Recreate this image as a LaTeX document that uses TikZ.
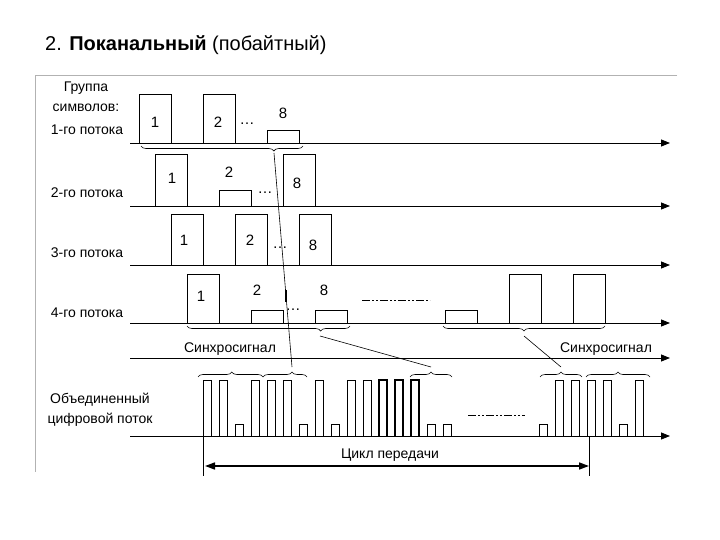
\documentclass[tikz,border=0pt]{standalone}
\usepackage{fontspec}
\setmainfont{Liberation Sans}
\usetikzlibrary{arrows.meta,decorations.pathreplacing}
\begin{document}
\begin{tikzpicture}[x=1pt,y=-1pt,
  axis/.style={line width=0.8pt,-{Triangle[length=9pt,width=7pt]}},
  lbl/.style={font=\fontsize{14}{14}\selectfont,inner sep=0pt},
  num/.style={font=\fontsize{15}{15}\selectfont,inner sep=0pt},
  pulse/.style={draw,line width=0.6pt},
  brc/.style={decorate,decoration={brace,amplitude=5pt},line width=0.6pt},
  brcu/.style={decorate,decoration={brace,amplitude=5pt,mirror},line width=0.6pt},
  link/.style={line width=0.6pt}]
\useasboundingbox (0,0) rectangle (720,540);
\fill[white] (0,0) rectangle (720,540);
\node[anchor=west,inner sep=0pt,font=\fontsize{20}{20}\selectfont] (title) at (45,45) {2. \textbf{Поканальный} (побайтный)};
\draw[gray!60,line width=0.8pt] (677,75) -- (35,75) -- (35,472);
% axes
\foreach \n/\y in {a/143,b/206,c/265,d/323,s/358,e/436}{
  \coordinate (L\n) at (130,\y); \coordinate (R\n) at (670,\y);
  \draw[axis] (L\n) -- (R\n);}
% left labels
\node[lbl] (g1) at (86,88) {Группа};
\node[lbl] (g2) at (86,108) {символов:};
\node[lbl] (p1) at (87,130) {1-го потока};
\node[lbl] (p2) at (87,193) {2-го потока};
\node[lbl] (p3) at (87,253) {3-го потока};
\node[lbl] (p4) at (87,313) {4-го потока};
\node[lbl] (o1) at (100,400) {Объединенный};
\node[lbl] (o2) at (100,420) {цифровой поток};
% row 1
\draw[pulse] (139,143) |- (171,94) -- (171,143);
\draw[pulse] (203,143) |- (235,94) -- (235,143);
\draw[pulse] (267,143) |- (299,130) -- (299,143);
\node[num] at (155,122) {1}; \node[num] at (218,122) {2};
\node[num] at (247,124) {\dots}; \node[num] at (283,113) {8};
% row 2
\draw[pulse] (155,206) |- (187,154) -- (187,206);
\draw[pulse] (219,206) |- (251,190) -- (251,206);
\draw[pulse] (283,206) |- (315,154) -- (315,206);
\node[num] at (172,178) {1}; \node[num] at (229,172) {2};
\node[num] at (265,193) {\dots}; \node[num] at (297,183) {8};
% row 3
\draw[pulse] (171,265) |- (203,214) -- (203,265);
\draw[pulse] (235,265) |- (267,214) -- (267,265);
\draw[pulse] (299,265) |- (331,214) -- (331,265);
\node[num] at (184,240) {1}; \node[num] at (250,240) {2};
\node[num] at (280,248) {\dots}; \node[num] at (313,245) {8};
% row 4
\draw[pulse] (187,323) |- (219,274) -- (219,323);
\draw[pulse] (251,323) |- (283,310) -- (283,323);
\draw[pulse] (315,323) |- (347,310) -- (347,323);
\draw[pulse] (445,323) |- (477,310) -- (477,323);
\draw[pulse] (509,323) |- (541,274) -- (541,323);
\draw[pulse] (573,323) |- (605,274) -- (605,323);
\node[num] at (201,296) {1}; \node[num] at (257,290) {2};
\node[num] at (293,310) {\dots}; \node[num] at (324,290) {8};
\draw[line width=1.2pt] (286,290) -- (286,302);
\draw[line width=0.8pt,dash pattern=on 8pt off 2pt on 2pt off 2pt on 2pt off 2pt] (362,300) -- (430,300);
% braces under rows
\coordinate (t1) at (274,153); \coordinate (t4) at (320,336); \coordinate (t5) at (524,336);
\draw[brcu,decoration={aspect=0.82}] (141,146) -- (303,146);
\draw[brcu,decoration={aspect=0.82}] (187,326) -- (350,326);
\draw[brcu,decoration={aspect=0.5}] (443,326) -- (605,326);
% sync labels
\node[lbl] (s1) at (230,349) {Синхросигнал};
\node[lbl] (s2) at (606,349) {Синхросигнал};
% combined stream
\foreach \k/\h in {0/380,1/380,2/424,3/380,4/380,5/380,6/424,7/380,8/424,9/380,10/380,14/424,15/424,21/424,22/380,23/380,24/380,25/380,26/424,27/380}{
  \draw[pulse] ({203+16*\k},436) |- ({211+16*\k},\h) -- ({211+16*\k},436);}
\foreach \k in {11,12,13}{
  \draw[pulse,line width=1.3pt] ({203+16*\k},436) |- ({211+16*\k},380) -- ({211+16*\k},436);}
\draw[line width=0.8pt,dash pattern=on 8pt off 2pt on 2pt off 2pt on 2pt off 2pt] (468,415) -- (525,415);
% braces over combined
\coordinate (b2) at (292,367); \coordinate (b3) at (431,367); \coordinate (b4) at (561,367);
\draw[brc,decoration={aspect=0.52}] (198,377) -- (263,377);
\draw[brc,decoration={aspect=0.66}] (263,377) -- (307,377);
\draw[brc,decoration={aspect=0.5}] (410,377) -- (452,377);
\draw[brc,decoration={aspect=0.5}] (540,377) -- (582,377);
\draw[brc,decoration={aspect=0.5}] (586,377) -- (650,377);
% links
\draw[link] (t1) -- (b2);
\draw[link] (t4) -- (b3);
\draw[link] (t5) -- (b4);
% cycle
\coordinate (c1) at (205,466); \coordinate (c2) at (589,466);
\draw[line width=0.6pt] (203,436) -- (203,476);
\draw[line width=0.6pt] (589,436) -- (589,476);
\draw[line width=1.6pt,{Triangle[length=10pt,width=7pt]}-{Triangle[length=10pt,width=7pt]}] (c1) -- (c2);
\node[lbl] (cyc) at (390,455) {Цикл передачи};
\end{tikzpicture}
\end{document}
